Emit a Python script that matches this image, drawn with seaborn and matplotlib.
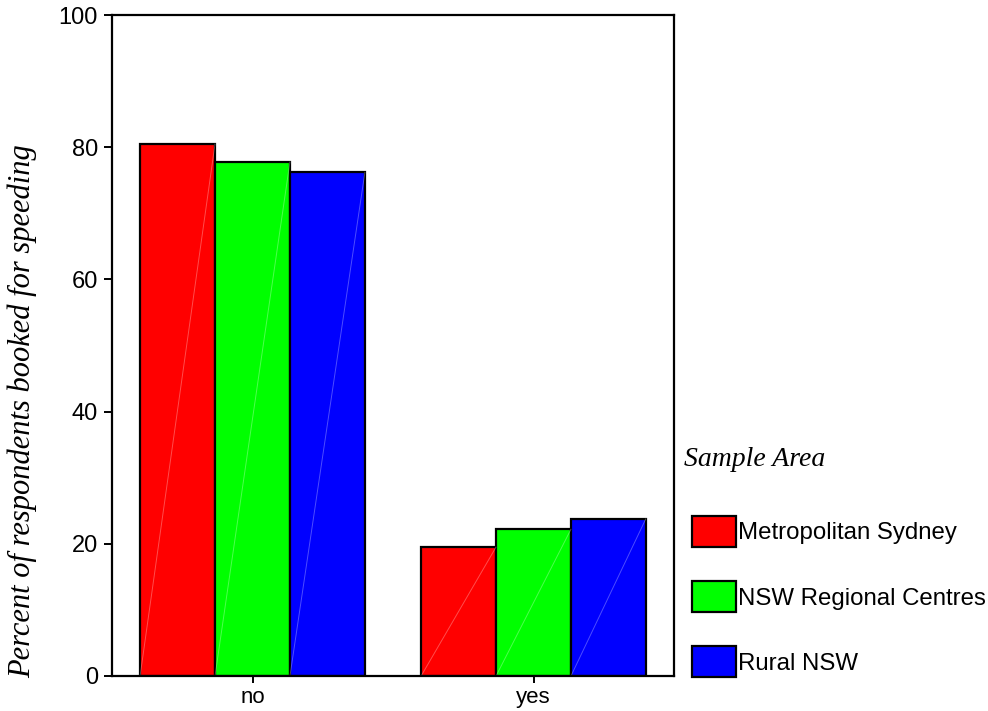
import matplotlib
matplotlib.use("Agg")
import matplotlib.pyplot as plt
import seaborn as sns
import pandas as pd
from matplotlib.patches import Patch

categories = ["no", "yes"]
areas = ["Metropolitan Sydney", "NSW Regional Centres", "Rural NSW"]
metro = [80.5, 19.5]
regional = [77.8, 22.2]
rural = [76.2, 23.8]
colors = ["#ff0000", "#00ff00", "#0000ff"]
yticks = [0, 20, 40, 60, 80, 100]

rows = []
for area, vals in zip(areas, [metro, regional, rural]):
    for c, v in zip(categories, vals):
        rows.append({"booked": c, "percent": v, "area": area})
df = pd.DataFrame(rows)

sns.set_theme(style="white")
plt.rcParams["font.family"] = ["Liberation Sans", "DejaVu Sans"]
plt.rcParams["text.color"] = "black"

fig = plt.figure(figsize=(9.88, 7.11), dpi=100)
ax = fig.add_axes([112/988, 1 - 676/711, (674-112)/988, (676-15)/711])

sns.barplot(data=df, x="booked", y="percent", hue="area", order=categories,
            hue_order=areas, palette=colors, saturation=1, edgecolor="black",
            linewidth=1.6, ax=ax, legend=False, errorbar=None)

# faint diagonal artefact line across each bar
for p in ax.patches:
    x0, y0 = p.get_x(), p.get_y()
    ax.plot([x0, x0 + p.get_width()], [y0, y0 + p.get_height()],
            color="white", alpha=0.3, lw=0.7, zorder=p.get_zorder() + 0.1)

ax.set_ylim(0, 100)
ax.set_xlim(-0.5, 1.5)
ax.set_yticks(yticks)
ax.set_yticklabels([str(t) for t in yticks])
ax.set_xlabel("")
ax.set_ylabel("")
for s in ax.spines.values():
    s.set_visible(True)
    s.set_color("black")
    s.set_linewidth(1.6)
ax.tick_params(axis="y", direction="out", length=6, width=1.4, color="black",
               labelsize=17, pad=4, left=True)
ax.tick_params(axis="x", direction="out", length=5, width=1.4, color="black",
               labelsize=16, pad=3, bottom=True)
for lab in ax.get_xticklabels() + ax.get_yticklabels():
    lab.set_color("black")

fig.text(22/988, 1 - 411/711, "Percent of respondents booked for speeding",
         rotation=90, ha="center", va="center", fontsize=22,
         family=["Liberation Serif", "DejaVu Serif"], style="italic", color="black")

fig.text(684/988, 1 - 459/711, "Sample Area", ha="left", va="center",
         fontsize=20, family=["Liberation Serif", "DejaVu Serif"],
         style="italic", color="black")

handles = [Patch(facecolor=c, edgecolor="black", linewidth=1.6) for c in colors]
leg = fig.legend(handles, areas, loc="upper left",
                 bbox_to_anchor=(692/988, 1 - 516/711), frameon=False,
                 fontsize=17.3, handlelength=1.83,
                 handleheight=1.6, handletextpad=0.08, labelspacing=1.43,
                 borderpad=0, borderaxespad=0)
for txt in leg.get_texts():
    txt.set_color("black")

fig.savefig("out.png", dpi=100)
